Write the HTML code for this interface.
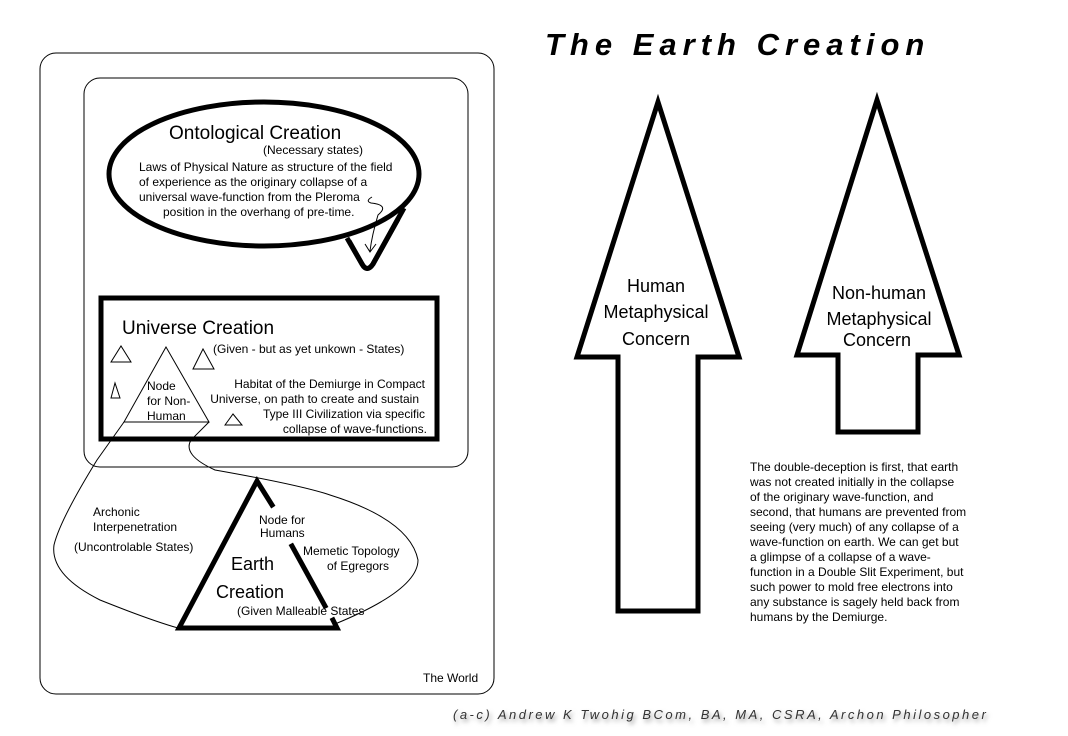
<!DOCTYPE html>
<html><head><meta charset="utf-8"><style>
html,body{margin:0;padding:0;background:#fff;}
svg{display:block;}
text{font-family:"Liberation Sans","DejaVu Sans",sans-serif;fill:#000;}
.s{font-size:12px;}
</style></head><body>
<svg width="1068" height="736" viewBox="0 0 1068 736" xmlns="http://www.w3.org/2000/svg">
<defs><filter id="sh" x="-10%" y="-50%" width="120%" height="200%"><feGaussianBlur stdDeviation="2"/></filter></defs>
<rect x="0" y="0" width="1068" height="736" fill="#fff"/>
<text x="545" y="55" font-size="31" font-weight="bold" font-style="italic" letter-spacing="6">The Earth Creation</text>
<rect x="40" y="53" width="454" height="641" rx="16" fill="none" stroke="#000" stroke-width="1"/>
<rect x="84" y="78" width="384" height="389" rx="16" fill="none" stroke="#000" stroke-width="1"/>
<!-- speech ellipse -->
<path d="M347,238 L362,264 Q367,273 373,264 L404,208" fill="none" stroke="#000" stroke-width="5" stroke-linejoin="round"/>
<ellipse cx="264" cy="174" rx="155" ry="72" fill="#fff" stroke="#000" stroke-width="5"/>
<path d="M349,241 L362,264 Q367,273 373,264 L398,219" fill="none" stroke="#000" stroke-width="5"/>
<text x="169" y="139" font-size="19">Ontological Creation</text>
<text x="263" y="154" class="s">(Necessary states)</text>
<text x="139" y="171" class="s">Laws of Physical Nature as structure of the field</text>
<text x="139" y="186" class="s">of experience as the originary collapse of a</text>
<text x="139" y="201" class="s">universal wave-function from the Pleroma</text>
<text x="163" y="216" class="s">position in the overhang of pre-time.</text>
<path d="M372,197 Q365,201 371,203 Q390,205 378,215 Q372,235 370,251 M365,244 L370,252 L376,244" fill="none" stroke="#000" stroke-width="1"/>
<!-- universe box -->
<rect x="101" y="298" width="336" height="141" fill="none" stroke="#000" stroke-width="5"/>
<text x="122" y="334" font-size="19">Universe Creation</text>
<text x="213" y="353" class="s">(Given - but as yet unkown - States)</text>
<text x="425" y="388" class="s" text-anchor="end">Habitat of the Demiurge in Compact</text>
<text x="419" y="403" class="s" text-anchor="end">Universe, on path to create and sustain</text>
<text x="425" y="418" class="s" text-anchor="end">Type III Civilization via specific</text>
<text x="427" y="433" class="s" text-anchor="end">collapse of wave-functions.</text>
<g fill="none" stroke="#000" stroke-width="1">
<path d="M111,362 L121,346 L131,362 Z"/>
<path d="M193,369 L203,349 L214,369 Z"/>
<path d="M111,398 L115,383 L120,398 Z"/>
<path d="M225,425 L233,414 L242,425 Z"/>
<path d="M166,347 L124,422 L209,422 Z"/>
<path d="M124,422 L97,460 Q60,520 54,545 Q50,575 100,600 Q150,620 178,628"/>
<path d="M209,422 L191,440 Q182,455 215,470 Q300,485 330,495 Q410,520 418,560 Q418,590 335,624"/>
</g>
<text x="147" y="390" class="s">Node</text>
<text x="147" y="405" class="s">for Non-</text>
<text x="147" y="420" class="s">Human</text>
<g stroke="#000" stroke-width="5" fill="none" stroke-linecap="square">
<path d="M272,505 L257,481 L179,628 L337,628 L333,620"/>
<path d="M292,546 L325,606"/>
</g>
<text x="93" y="516" class="s">Archonic</text>
<text x="93" y="531" class="s">Interpenetration</text>
<text x="74" y="551" class="s">(Uncontrolable States)</text>
<text x="259" y="524" class="s">Node for</text>
<text x="260" y="537" class="s">Humans</text>
<text x="303" y="555" class="s">Memetic Topology</text>
<text x="327" y="570" class="s">of Egregors</text>
<text x="231" y="570" font-size="18">Earth</text>
<text x="216" y="598" font-size="18">Creation</text>
<text x="237" y="615" class="s">(Given Malleable States</text>
<text x="423" y="682" class="s">The World</text>
<g stroke="#000" stroke-width="5" fill="none" stroke-linejoin="miter">
<path d="M658,102 L739,357 L698,357 L698,611 L618,611 L618,357 L577,357 Z"/>
<path d="M877,100 L959,355 L918,355 L918,432 L838,432 L838,355 L797,355 Z"/>
</g>
<text x="656" y="292" font-size="18" text-anchor="middle">Human</text>
<text x="656" y="318" font-size="18" text-anchor="middle">Metaphysical</text>
<text x="656" y="345" font-size="18" text-anchor="middle">Concern</text>
<text x="879" y="299" font-size="18" text-anchor="middle">Non-human</text>
<text x="879" y="325" font-size="18" text-anchor="middle">Metaphysical</text>
<text x="877" y="346" font-size="18" text-anchor="middle">Concern</text>
<text x="750" y="471" class="s">The double-deception is first, that earth</text>
<text x="750" y="486" class="s">was not created initially in the collapse</text>
<text x="750" y="501" class="s">of the originary wave-function, and</text>
<text x="750" y="516" class="s">second, that humans are prevented from</text>
<text x="750" y="531" class="s">seeing (very much) of any collapse of a</text>
<text x="750" y="546" class="s">wave-function on earth. We can get but</text>
<text x="750" y="561" class="s">a glimpse of a collapse of a wave-</text>
<text x="750" y="576" class="s">function in a Double Slit Experiment, but</text>
<text x="750" y="591" class="s">such power to mold free electrons into</text>
<text x="750" y="606" class="s">any substance is sagely held back from</text>
<text x="750" y="621" class="s">humans by the Demiurge.</text>
<text x="455" y="722" font-size="13" font-style="italic" letter-spacing="2.5" style="fill:#999" filter="url(#sh)">(a-c) Andrew K Twohig BCom, BA, MA, CSRA, Archon Philosopher</text>
<text x="453" y="719" font-size="13" font-style="italic" letter-spacing="2.5" style="fill:#333">(a-c) Andrew K Twohig BCom, BA, MA, CSRA, Archon Philosopher</text>
</svg>
</body></html>
